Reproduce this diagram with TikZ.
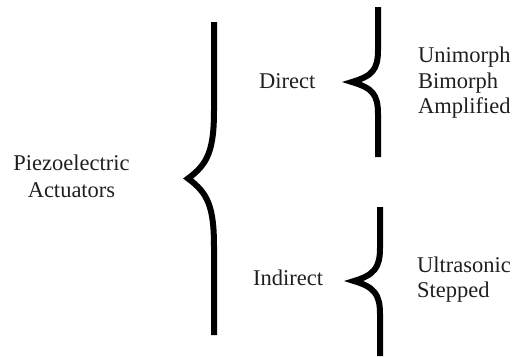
\documentclass[tikz,border=0pt]{standalone}
\usepackage{fontspec}
\setmainfont{Liberation Serif}
\tikzset{
  lbl/.style={inner sep=0pt, font=\fontsize{22.5}{26}\selectfont, text=black!88},
  bracepath/.style={line width=6pt, line join=miter, miter limit=10, line cap=butt, draw=black}
}
\begin{document}
\begin{tikzpicture}[x=1pt,y=-1pt]
\useasboundingbox (0,0) rectangle (516,356);
% labels
\node[lbl, anchor=base] (piezo) at (71.5,170) {Piezoelectric};
\node[lbl, anchor=base] (act) at (71.5,197) {Actuators};
\node[lbl, anchor=base west] (direct) at (259,88) {Direct};
\node[lbl, anchor=base west] (indirect) at (253,285) {Indirect};
\node[lbl, anchor=base west] (uni) at (418,62) {Unimorph};
\node[lbl, anchor=base west] (bi) at (418,88) {Bimorph};
\node[lbl, anchor=base west] (amp) at (418,113) {Amplified};
\node[lbl, anchor=base west] (ultra) at (417,272) {Ultrasonic};
\node[lbl, anchor=base west] (step) at (417,297) {Stepped};
% big brace
\draw[bracepath] (214,22) -- (214,110) .. controls (214,150) and (208,164) .. (188,178.5)
  .. controls (208,193) and (214,207) .. (214,247) -- (214,335);
% upper small brace
\draw[bracepath] (378,7) -- (378,50) .. controls (378,70) and (372,76) .. (352,82)
  .. controls (372,88) and (378,94) .. (378,114) -- (378,157);
% lower small brace
\draw[bracepath] (380,207) -- (380,248) .. controls (380,268) and (374,275) .. (354,281)
  .. controls (374,287) and (380,294) .. (380,314) -- (380,356);
\end{tikzpicture}
\end{document}
